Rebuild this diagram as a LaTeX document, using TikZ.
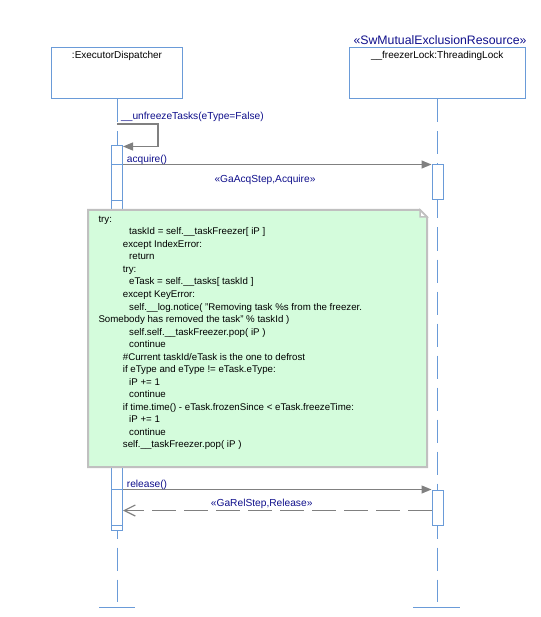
\documentclass[tikz,border=0pt]{standalone}
\usepackage{fontspec}
\setmainfont{Liberation Sans}
\usetikzlibrary{arrows.meta,calc}

\definecolor{lineblue}{RGB}{106,155,216}
\definecolor{msggray}{RGB}{128,128,128}
\definecolor{labelnavy}{RGB}{16,16,140}
\definecolor{notefill}{RGB}{212,252,220}
\definecolor{noteline}{RGB}{192,192,192}

\tikzset{
  lifebox/.style={draw=lineblue, line width=1pt, fill=white, inner sep=0pt},
  titletext/.style={inner sep=0pt, font=\fontsize{10}{12}\selectfont},
  actbar/.style={draw=lineblue, line width=1pt, fill=white, inner sep=0pt, minimum width=11pt},
  lifeline/.style={draw=lineblue, line width=1pt, dash pattern=on 23pt off 9pt},
  endtick/.style={draw=lineblue, line width=1pt},
  barcut/.style={draw=lineblue, line width=1pt},
  msg/.style={draw=msggray, line width=1.2pt, -{Triangle[length=10pt,width=8pt]}},
  retmsg/.style={draw=msggray, line width=1.2pt, dash pattern=on 24pt off 8pt,
                 -{Straight Barb[length=11pt,width=11pt]}},
  lbl/.style={inner sep=0pt, text=labelnavy, font=\fontsize{10.2}{12}\selectfont},
  code/.style={inner sep=0pt, anchor=base west, font=\fontsize{9.7}{12}\selectfont},
}

\begin{document}
\begin{tikzpicture}[x=1pt, y=-1pt]
  % canvas
  \fill[white] (0,0) rectangle (540,617);
  \useasboundingbox (0,0) rectangle (540,617);

  % lifeline heads
  \node[lifebox, minimum width=131pt, minimum height=51pt] (exec) at (117.2,73.5) {};
  \node[titletext] (execname) at (117,55.7) {:ExecutorDispatcher};
  \node[lifebox, minimum width=176.4pt, minimum height=51pt] (lock) at (437.5,73.5) {};
  \node[titletext] (lockname) at (437.2,55.7) {\_\_freezerLock:ThreadingLock};
  \node[lbl, font=\fontsize{12.3}{14}\selectfont] (stereo) at (440,40) {«SwMutualExclusionResource»};

  % lifelines and their end marks
  \coordinate (execend) at (117,602);
  \coordinate (lockend) at (437.5,602);
  \draw[lifeline] (exec.south -| execend) -- (execend);
  \draw[lifeline] (lock.south -| lockend) -- (lockend);
  \coordinate (execendA) at (99,607);
  \coordinate (execendB) at (134.5,607);
  \coordinate (lockendA) at (413,607);
  \coordinate (lockendB) at (460,607);
  \draw[endtick] (execendA) -- (execendB);
  \draw[endtick] (lockendA) -- (lockendB);

  % activation bars
  \node[actbar, minimum height=384pt] (barL) at (117,338) {};
  \node[actbar, minimum height=35pt] (barA) at (437.5,182.5) {};
  \node[actbar, minimum height=35pt] (barR) at (437.5,507.5) {};
  \draw[barcut] (barL.west |- barA.north) -- (barL.east |- barA.north);
  \draw[barcut] (barL.west |- barA.south) -- (barL.east |- barA.south);
  \draw[barcut] (barL.west |- barR.north) -- (barL.east |- barR.north);
  \draw[barcut] (barL.west |- barR.south) -- (barL.east |- barR.south);

  % self call
  \coordinate (selfstart) at (117,124);
  \coordinate (selfturn) at (158,146.5);
  \draw[msg] (selfstart) -| (selfturn) -- (barL.east |- selfturn);
  \node[lbl, anchor=base west] (selflbl) at (121,120) {\_\_unfreezeTasks(eType=False)};

  % acquire
  \draw[msg] (barL.east |- barA.north) -- (barA.north west);
  \node[lbl, anchor=base west] (acqlbl) at (126.7,163) {acquire()};
  \node[lbl] (acqst) at (265,180) {«GaAcqStep,Acquire»};

  % release and its return
  \draw[msg] (barL.east |- barR.north) -- (barR.north west);
  \node[lbl, anchor=base west] (rellbl) at (126.7,487) {release()};
  \coordinate (retstart) at ($(barR.north west)+(0,21)$);
  \draw[retmsg] (retstart) -- (barL.east |- retstart);
  \node[lbl] (relst) at (261.7,504.3) {«GaRelStep,Release»};

  % note with folded corner
  \draw[draw=noteline, fill=notefill, line width=2pt, line join=miter]
    (88,210) -- (420,210) -- (427,217) -- (427,467) -- (88,467) -- cycle;
  \draw[draw=noteline, fill=white, line width=1.5pt]
    (420,210) -- (420,217) -- (427,217) -- cycle;

  \node[code] (c1)  at (98.3,222.3) {try:};
  \node[code] (c2)  at (129,234.8) {taskId = self.\_\_taskFreezer[ iP ]};
  \node[code] (c3)  at (122.7,247.3) {except IndexError:};
  \node[code] (c4)  at (129,259.9) {return};
  \node[code] (c5)  at (122.7,272.4) {try:};
  \node[code] (c6)  at (129,284.9) {eTask = self.\_\_tasks[ taskId ]};
  \node[code] (c7)  at (122.7,297.4) {except KeyError:};
  \node[code] (c8)  at (129,310.0) {self.\_\_log.notice( "Removing task \%s from the freezer.};
  \node[code] (c9)  at (98.3,322.5) {Somebody has removed the task" \% taskId )};
  \node[code] (c10) at (129,335.0) {self.self.\_\_taskFreezer.pop( iP )};
  \node[code] (c11) at (129,347.5) {continue};
  \node[code] (c12) at (122.7,360.0) {\#Current taskId/eTask is the one to defrost};
  \node[code] (c13) at (122.7,372.6) {if eType and eType != eTask.eType:};
  \node[code] (c14) at (129,385.1) {iP += 1};
  \node[code] (c15) at (129,397.6) {continue};
  \node[code] (c16) at (122.7,410.1) {if time.time() - eTask.frozenSince < eTask.freezeTime:};
  \node[code] (c17) at (129,422.7) {iP += 1};
  \node[code] (c18) at (129,435.2) {continue};
  \node[code] (c19) at (122.7,447.7) {self.\_\_taskFreezer.pop( iP )};
\end{tikzpicture}
\end{document}
